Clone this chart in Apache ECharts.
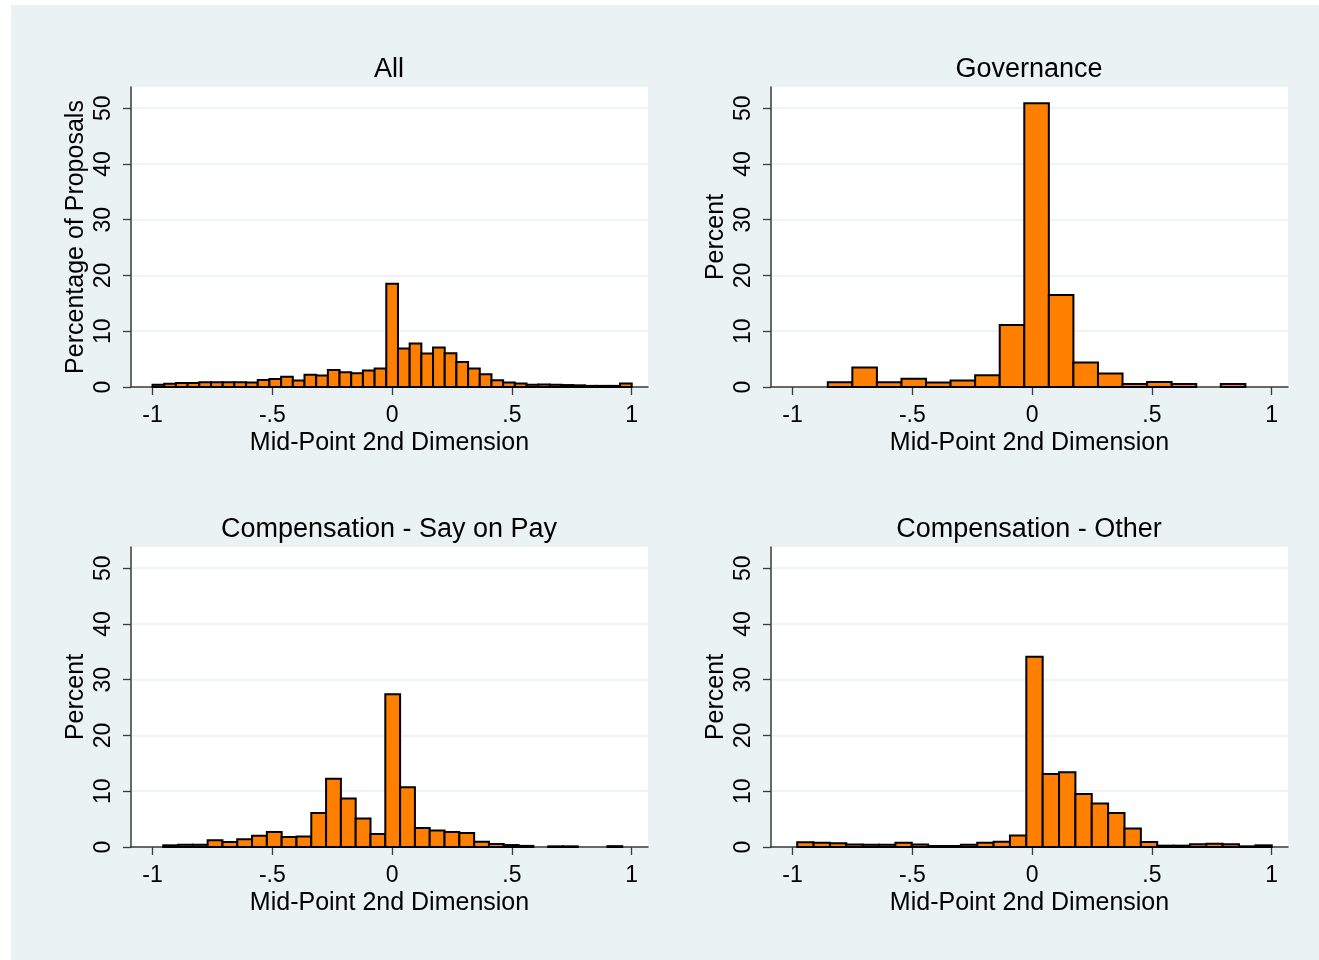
<!DOCTYPE html>
<html>
<head>
<meta charset="utf-8">
<script src="https://cdn.jsdelivr.net/npm/echarts@6/dist/echarts.min.js"></script>
<style>
html,body{margin:0;padding:0;background:#ffffff;}
#bg{position:absolute;left:11px;top:5px;width:1308px;height:955px;background:#eaf2f3;}
#chart{position:absolute;left:0;top:0;width:1319px;height:960px;}
</style>
</head>
<body>
<div id="bg"></div>
<div id="chart"></div>
<script>
// ---- data ----
const panelTitles = ['All', 'Governance', 'Compensation - Say on Pay', 'Compensation - Other'];
const yTitles = ['Percentage of Proposals', 'Percent', 'Percent', 'Percent'];
const xTitle = 'Mid-Point 2nd Dimension';
const xTickValues = [-1, -0.5, 0, 0.5, 1];
const xTickLabels = ['-1', '-.5', '0', '.5', '1'];
const yTickValues = [0, 10, 20, 30, 40, 50];

// histogram bins: lower edge of first bin and bin width (data units)
const allBinStart = -1.0,    allBinWidth = 0.04878;
const govBinStart = -0.853,  govBinWidth = 0.10253;
const sopBinStart = -0.9555, sopBinWidth = 0.0618;
const othBinStart = -0.9805, othBinWidth = 0.0683;

const allValues = [0.4, 0.6, 0.7, 0.7, 0.85, 0.85, 0.85, 0.85, 0.8, 1.25,
                   1.45, 1.85, 1.15, 2.2, 2.05, 3.05, 2.65, 2.45, 2.95, 3.3,
                   18.5,
                   6.9, 7.8, 6.0, 7.1, 6.05, 4.5, 3.3, 2.3, 1.2, 0.8,
                   0.65, 0.4, 0.45, 0.4, 0.35, 0.3, 0.2, 0.2, 0.2, 0.65];
const govValues = [0.85, 3.5, 0.85, 1.5, 0.8, 1.15, 2.1, 11.1, 50.9, 16.5,
                   4.4, 2.4, 0.55, 0.9, 0.55, 0, 0.55];
const sopValues = [0.3, 0.4, 0.4, 1.2, 0.9, 1.4, 2.0, 2.7, 1.8, 1.9,
                   6.1, 12.25, 8.7, 5.1, 2.35, 27.4, 10.7, 3.4, 2.95, 2.7,
                   2.5, 0.95, 0.55, 0.35, 0.2, 0, 0.12, 0.12, 0, 0, 0.15];
const othValues = [0.84, 0.78, 0.66, 0.45, 0.4, 0.4, 0.78, 0.45, 0.18, 0.18,
                   0.42, 0.78, 0.96, 2.04, 34.1, 13.1, 13.4, 9.5, 7.8, 6.1,
                   3.3, 0.9, 0.24, 0.24, 0.48, 0.6, 0.48, 0.12, 0.3];

// ---- build ----
function bins(start, width, values) {
  return values.map((v, i) => [start + i * width, start + (i + 1) * width, v]);
}
const seriesData = [
  bins(allBinStart, allBinWidth, allValues),
  bins(govBinStart, govBinWidth, govValues),
  bins(sopBinStart, sopBinWidth, sopValues),
  bins(othBinStart, othBinWidth, othValues)
];

const FONT = 'Liberation Sans, Arial, Helvetica, sans-serif';
const gridPos = [
  {left: 131, top: 87,  width: 517, height: 300},
  {left: 771, top: 87,  width: 517, height: 300},
  {left: 131, top: 547, width: 517, height: 300},
  {left: 771, top: 547, width: 517, height: 300}
];

const grids = [], xAxes = [], yAxes = [], series = [], titles = [];
gridPos.forEach((g, i) => {
  grids.push(Object.assign({show: true, backgroundColor: '#ffffff', borderWidth: 0, containLabel: false}, g));
  titles.push({
    text: panelTitles[i],
    left: g.left + g.width / 2 - 0.5,
    top: g.top - 31,
    padding: 0,
    textAlign: 'center',
    textStyle: {fontFamily: FONT, fontSize: 27, fontWeight: 'normal', color: '#000'}
  });
  xAxes.push({
    type: 'value', gridIndex: i, min: -1.09, max: 1.068,
    name: xTitle, nameLocation: 'middle', nameGap: 44,
    nameTextStyle: {fontFamily: FONT, fontSize: 25, color: '#000'},
    axisLine: {show: true, onZero: false, lineStyle: {color: '#3a3a3a', width: 1.5}},
    axisTick: {show: true, length: 8, inside: false, customValues: xTickValues, lineStyle: {color: '#3a3a3a', width: 1.3}},
    axisLabel: {show: true, customValues: xTickValues, margin: 17, fontFamily: FONT, fontSize: 23, color: '#000',
      formatter: v => { const k = xTickValues.findIndex(t => Math.abs(t - v) < 1e-9); return k >= 0 ? xTickLabels[k] : ''; }},
    splitLine: {show: false}
  });
  yAxes.push({
    type: 'value', gridIndex: i, min: 0, max: 53.8, interval: 10,
    name: yTitles[i], nameLocation: 'middle', nameGap: 42,
    nameTextStyle: {fontFamily: FONT, fontSize: 25, color: '#000'},
    axisLine: {show: true, onZero: false, lineStyle: {color: '#3a3a3a', width: 1.5}},
    axisTick: {show: true, length: 8, customValues: yTickValues, lineStyle: {color: '#3a3a3a', width: 1.3}},
    axisLabel: {show: true, rotate: 90, margin: 16, customValues: yTickValues, fontFamily: FONT, fontSize: 23, color: '#000'},
    splitLine: {show: true, lineStyle: {color: '#e8f0f2', width: 1.5}}
  });
  series.push({
    type: 'custom', xAxisIndex: i, yAxisIndex: i,
    data: seriesData[i],
    encode: {x: [0, 1], y: 2},
    renderItem: function (params, api) {
      const v = api.value(2);
      if (!(v > 0)) return null;
      const p0 = api.coord([api.value(0), v]);
      const p1 = api.coord([api.value(1), 0]);
      return {
        type: 'rect',
        shape: {x: p0[0], y: p0[1], width: p1[0] - p0[0], height: p1[1] - p0[1]},
        style: {fill: '#ff8000', stroke: '#000000', lineWidth: 2}
      };
    }
  });
});

const chart = echarts.init(document.getElementById('chart'), null, {renderer: 'canvas'});
chart.setOption({
  backgroundColor: 'transparent',
  animation: false,
  title: titles,
  grid: grids,
  xAxis: xAxes,
  yAxis: yAxes,
  series: series
});
</script>
</body>
</html>
